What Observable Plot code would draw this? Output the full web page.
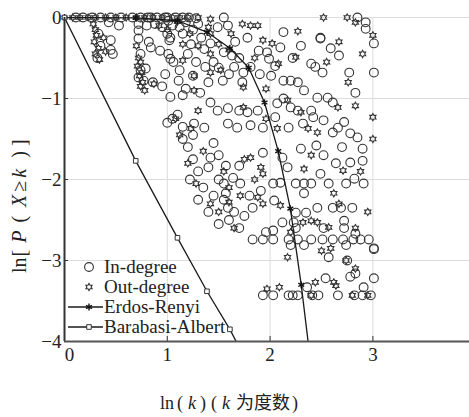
<!DOCTYPE html>
<html><head><meta charset="utf-8">
<script src="https://cdn.jsdelivr.net/npm/d3@7"></script>
<script src="https://cdn.jsdelivr.net/npm/@observablehq/plot@0.6"></script>
<style>body{margin:0;background:#fff} svg{display:block}</style>
</head><body><div id="chart"></div>
<script>
// In-degree points [ln k, ln P(X>=k)]
const inDegree = [
[0.11,0],[0.18,0],[0.27,0],[0.35,0],[0.45,0],[0.55,0],[0.66,0],[0.74,0],[0.81,0],[0.84,0],[0.9,0],[0.98,0],[1.0,0],[1.08,0],[1.15,0],[1.21,0],[1.28,-0.01],[1.55,0],
[0.72,-0.08],[0.8,-0.1],[0.88,-0.08],[0.95,-0.12],[1.05,-0.1],[1.12,-0.12],[1.18,-0.06],[1.25,-0.15],[1.01,-0.04],[1.3,-0.08],
[0.43,-0.06],[0.53,-0.1],[0.45,-0.28],[0.45,-0.4],[0.47,-0.45],[0.33,-0.2],[0.35,-0.35],[0.32,-0.5],
[0.72,-0.16],[0.72,-0.26],[0.74,-0.45],[0.82,-0.3],[0.84,-0.37],[0.93,-0.41],[1.01,-0.45],[1.03,-0.51],[0.74,-0.65],[0.79,-0.63],[0.72,-0.74],[0.77,-0.78],[0.86,-0.8],[1.11,-0.78],[1.0,-0.2],[1.02,-0.28],
[1.03,-0.25],[1.06,-0.55],[1.23,-0.33],[1.36,-0.39],[1.37,-0.61],[1.45,-0.55],[1.59,-0.1],[1.49,-0.12],[1.55,-0.43],[1.63,-0.47],[1.66,-0.3],[1.65,-0.61],[1.54,-0.78],[1.73,-0.8],[1.74,-0.68],[1.81,-0.61],[1.89,-0.41],[1.97,-0.43],[1.99,-0.51],[2.01,-0.72],[2.1,-0.37],[2.13,-0.18],[2.13,-0.78],[2.2,-0.78],[2.27,-0.8],[2.33,-0.9],[2.4,-0.57],[2.44,-0.61],[2.51,-0.68],[2.49,-0.25],[2.49,-0.26],[2.59,-0.38],[2.67,-0.47],[2.77,-0.68],[2.83,-0.93],[2.85,0],[2.93,-0.06],[2.93,-0.14],[3.01,-0.32],[3.01,-0.68],
[2.56,-0.99],[2.61,-1.05],[2.46,-0.99],[2.4,-1.15],[2.27,-1.15],[2.2,-1.11],[2.07,-1.06],[2.13,-1.0],[1.88,-1.15],[1.78,-1.17],[1.7,-1.15],[1.59,-1.12],[1.49,-1.15],[1.42,-1.05],[1.32,-0.93],[1.15,-0.96],[1.03,-0.98],[1.05,-1.25],[1.26,-1.31],[1.36,-1.36],[1.59,-1.31],[1.68,-1.36],[1.81,-1.33],[1.93,-1.36],[2.05,-1.23],[2.18,-1.36],[2.32,-1.31],[2.42,-1.23],[2.52,-1.27],[2.66,-1.36],[2.72,-1.29],[2.78,-1.43],[2.85,-1.48],[2.61,-1.42],
[1.15,-0.2],[1.2,-0.45],[1.28,-0.55],[1.33,-0.25],[1.42,-0.32],[1.5,-0.62],[1.12,-0.65],[1.25,-0.72],[1.4,-0.8],[1.6,-0.7],[1.7,-0.5],[1.78,-0.25],[1.9,-0.7],[2.05,-0.6],[2.22,-0.5],[2.3,-0.35],[0.98,-0.7],[0.95,-0.85],[1.18,-0.88],
[1.15,-1.5],[1.2,-1.6],[1.25,-1.75],[1.3,-1.9],[1.22,-2.0],[1.35,-2.1],[1.3,-2.25],[1.4,-2.4],[1.45,-1.55],[1.5,-1.7],[1.4,-1.85],[1.5,-2.0],[1.55,-2.25],[1.45,-2.2],[1.6,-2.5],[1.5,-2.55],[1.7,-2.6],[1.65,-2.4],[1.75,-2.45],[1.8,-2.2],[1.42,-1.73],[1.93,-1.67],[2.12,-1.73],[2.3,-1.62],[2.45,-1.58],[2.7,-1.6],[2.9,-1.62],[1.1,-1.2],[1.15,-1.35],[1.0,-1.3],[1.25,-1.45],
[1.57,-1.83],[1.7,-1.83],[1.55,-2.05],[1.64,-1.98],[1.71,-2.05],[1.57,-2.17],[1.59,-2.35],[1.83,-2.35],[1.91,-2.14],[2.04,-2.26],[2.03,-2.05],[2.1,-2.04],[2.17,-1.85],[2.25,-2.05],[2.33,-2.05],[2.4,-2.05],[2.49,-1.93],[2.57,-2.05],[2.64,-1.8],[2.74,-2.05],[2.82,-1.99],[2.91,-2.05],[2.78,-1.79],[2.9,-1.77],[2.52,-1.7],[2.33,-2.17],[2.46,-2.35],[2.61,-2.35],[2.69,-2.35],[2.8,-2.35],[2.35,-2.41],[2.25,-2.41],[2.12,-2.53],[2.23,-2.53],[1.96,-2.65],[2.03,-2.63],[2.25,-2.6],[2.52,-2.6],[2.72,-2.51],[2.72,-2.6],[2.83,-2.67],
[1.83,-2.74],[1.93,-2.74],[2.03,-2.74],[2.18,-2.74],[2.27,-2.74],[2.4,-2.74],[2.51,-2.74],[2.61,-2.74],[2.71,-2.74],[2.81,-2.74],[2.88,-2.74],[2.96,-2.74],
[2.2,-2.81],[2.33,-2.81],[2.74,-2.81],[3.01,-2.85],[3.01,-2.86],[2.57,-2.96],[2.75,-3.0],[2.78,-3.2],[2.83,-3.16],[2.54,-3.22],[3.01,-3.22],[2.36,-3.33],[2.91,-3.33],
[1.93,-3.43],[2.03,-3.43],[2.18,-3.43],[2.22,-3.43],[2.27,-3.43],[2.41,-3.43],[2.47,-3.43],[2.66,-3.43],[2.82,-3.43],[2.9,-3.43],[2.98,-3.43]
];
// Out-degree points
const outDegree = [
[0.08,0],[0.15,0],[0.23,0],[0.3,0],[0.4,0],[0.5,0],[0.6,0],[0.7,0],[0.78,0],[0.86,0],[0.95,0],[1.05,0],[1.12,0],[1.2,0],[1.3,0],[1.42,-0.02],[2.52,0],[2.75,0],
[0.28,-0.08],[0.3,-0.15],[0.31,-0.22],[0.29,-0.3],[0.33,-0.38],[0.3,-0.45],[0.34,-0.52],[0.38,-0.25],[0.4,-0.42],
[0.72,-0.5],[0.74,-0.55],[0.71,-0.6],[0.75,-0.68],[0.73,-0.72],[0.76,-0.8],[0.74,-0.85],[0.78,-0.9],[0.7,-0.35],
[2.27,-0.17],[2.67,-0.3],[2.83,-0.06],[3.0,-0.22],[2.76,-0.8],[2.83,-1.09],[3.0,-1.23],[2.25,-0.49],[2.08,-0.57],[2.02,-0.32],[1.93,-0.28],[1.73,-0.08],[1.81,-0.1],[1.88,-0.1],[1.4,-0.12],[1.42,-0.2],[1.62,-0.2],[1.5,-0.33],[1.42,-0.45],[1.42,-0.68],[1.52,-0.65],[1.26,-0.9],[1.26,-0.72],[1.15,-0.33],[1.15,-0.53],[0.87,-0.82],[1.74,-0.86],[1.96,-0.88],[2.17,-1.02],[2.3,-1.17],[1.96,-1.25],[2.07,-1.37],[1.3,-1.15],[1.23,-1.37],[2.37,-1.37],[2.46,-1.42],[2.66,-1.11],[1.74,-1.11],
[0.92,-0.1],[1.0,-0.15],[1.1,-0.05],[1.22,-0.2],[1.3,-0.35],[1.6,-0.4],[1.85,-0.5],[2.55,-0.55],[2.9,-0.45],
[1.12,-1.45],[1.2,-1.8],[1.28,-2.05],[1.35,-1.65],[1.42,-2.3],[1.55,-1.9],[1.6,-2.1],[1.65,-2.6],[1.75,-1.75],[1.85,-2.0],[1.08,-1.25],[1.5,-2.4],
[1.81,-1.73],[1.91,-1.85],[1.93,-1.93],[1.71,-2.2],[1.6,-2.28],[1.88,-2.22],[1.93,-2.3],[2.1,-2.32],[2.32,-2.53],[2.4,-2.51],[2.46,-2.53],[2.57,-2.59],[2.83,-2.6],[2.67,-2.3],[2.62,-2.17],[2.71,-1.89],[2.33,-1.87],[2.4,-1.7],[2.17,-2.96],[2.59,-2.85],[2.74,-3.0],[2.83,-3.1],[1.97,-3.35],[2.09,-3.33],[2.44,-3.27],[2.62,-3.27],[2.64,-3.31],[2.4,-3.43],[2.8,-3.43],[2.95,-3.43],
[2.2,-2.65],[2.5,-2.88],[2.95,-2.4],[3.0,-1.5],[2.88,-1.9]
];
// model curves, sampled at k = 1, 2, 3, ...
const lnK = [0, 0.693, 1.099, 1.386, 1.609, 1.792, 1.946, 2.079, 2.197, 2.303, 2.398];
const erdosRenyi = [0, -0.005, -0.04, -0.18, -0.38, -0.62, -1.05, -1.65, -2.36, -3.3, -4.3];
const barabasiAlbert = [0, -1.77, -2.72, -3.38, -3.85, -4.3];
const xTicks = [0, 1, 2, 3];
const yTicks = [0, -1, -2, -3, -4];
const legendLabels = ["In-degree", "Out-degree", "Erdos-Renyi", "Barabasi-Albert"];

const erData = lnK.map((x, i) => ({x, y: erdosRenyi[i]}));
const baData = barabasiAlbert.map((y, i) => ({x: lnK[i], y}));

const hexagram = {
  draw(context, size) {
    const R = Math.sqrt(size / Math.PI), r = R / Math.sqrt(3);
    for (let i = 0; i < 12; i++) {
      const a = -Math.PI / 2 + i * Math.PI / 6, rr = i % 2 ? r : R;
      const px = rr * Math.cos(a), py = rr * Math.sin(a);
      i ? context.lineTo(px, py) : context.moveTo(px, py);
    }
    context.closePath();
  }
};

const serif = "'Liberation Serif', 'Times New Roman', serif";
const ink = "#333";
const fmt = d => (d < 0 ? "\u2212" : "") + Math.abs(d);

const chart = Plot.plot({
  width: 469, height: 417,
  marginLeft: 64, marginRight: 0, marginTop: 17, marginBottom: 76,
  style: {fontFamily: serif, fontSize: "19px", color: "#222", background: "#fff", overflow: "visible"},
  x: {domain: [0, 3.94]},
  y: {domain: [-4, 0]},
  marks: [
    Plot.gridX(xTicks.slice(1), {stroke: "#dcdcdc", strokeOpacity: 1}),
    Plot.gridY(yTicks.slice(0, 4), {stroke: "#dcdcdc", strokeOpacity: 1}),
    Plot.axisY(yTicks, {tickSize: 0, tickPadding: 3, fontSize: 19, fill: "#222", tickFormat: fmt, label: null}),
    Plot.axisY(yTicks.slice(1, 4), {tickSize: -4, tickFormat: () => "", stroke: ink, label: null}),
    Plot.axisX([0], {tickSize: 0, tickPadding: 6, fontSize: 19, dx: 5, fill: "#222", tickFormat: fmt, label: null}),
    Plot.axisX(xTicks.slice(1), {tickSize: 0, tickPadding: 6, fontSize: 19, fill: "#222", tickFormat: fmt, label: null}),
    Plot.axisX(xTicks.slice(1), {tickSize: -5, tickFormat: () => "", stroke: ink, label: null}),
    Plot.dot(inDegree, {x: d => d[0], y: d => d[1], r: 4.4, stroke: ink, strokeWidth: 1.1, fill: "none"}),
    Plot.dot(outDegree, {x: d => d[0], y: d => d[1], r: 3.6, symbol: hexagram, stroke: ink, strokeWidth: 1.1, fill: "none"}),
    Plot.line(erData, {x: "x", y: "y", stroke: "#1a1a1a", strokeWidth: 1.3, clip: true}),
    Plot.dot(erData.filter(d => d.y >= -4), {x: "x", y: "y", symbol: "asterisk", r: 3.2, stroke: "#111", strokeWidth: 1.4}),
    Plot.line(baData, {x: "x", y: "y", stroke: "#1a1a1a", strokeWidth: 1.3, clip: true}),
    Plot.dot(baData.filter(d => d.y >= -4), {x: "x", y: "y", symbol: "square", r: 2.6, stroke: "#333", strokeWidth: 1, fill: "#fff"}),
    Plot.ruleX([0], {stroke: "#333", strokeWidth: 2}),
    Plot.ruleY([-4], {stroke: "#555", strokeWidth: 2.2})
  ]
});

document.getElementById("chart").appendChild(chart);

// legend and axis titles
const svg = d3.select(chart);
const lg = svg.append("g").attr("font-family", serif).attr("font-size", 19).attr("fill", "#222").attr("text-anchor", "start");
const rows = [267, 287, 307, 327];
const symX = 89, textX = 104;
lg.append("path").attr("d", d3.symbol(d3.symbolCircle, Math.PI * 4.4 * 4.4)()).attr("transform", `translate(${symX},${rows[0]})`).attr("fill", "none").attr("stroke", ink).attr("stroke-width", 1.1);
lg.append("path").attr("d", d3.symbol(hexagram, Math.PI * 3.6 * 3.6)()).attr("transform", `translate(${symX},${rows[1]})`).attr("fill", "none").attr("stroke", ink).attr("stroke-width", 1.1);
lg.append("line").attr("x1", 68).attr("x2", textX - 1).attr("y1", rows[2]).attr("y2", rows[2]).attr("stroke", "#1a1a1a").attr("stroke-width", 1.3);
lg.append("path").attr("d", d3.symbol(d3.symbolAsterisk, Math.PI * 3.2 * 3.2)()).attr("transform", `translate(${symX},${rows[2]})`).attr("fill", "none").attr("stroke", "#111").attr("stroke-width", 1.4);
lg.append("line").attr("x1", 68).attr("x2", textX - 1).attr("y1", rows[3]).attr("y2", rows[3]).attr("stroke", "#1a1a1a").attr("stroke-width", 1.3);
lg.append("path").attr("d", d3.symbol(d3.symbolSquare, Math.PI * 2.6 * 2.6)()).attr("transform", `translate(${symX},${rows[3]})`).attr("fill", "#fff").attr("stroke", "#333").attr("stroke-width", 1);
legendLabels.forEach((t, i) => {
  lg.append("text").attr("x", textX).attr("y", rows[i]).attr("dy", "0.33em").text(t);
});

// y title (rotated), reading bottom to top, starting at y = 273
const yt = svg.append("text")
  .attr("transform", "translate(19,273) rotate(-90)")
  .attr("text-anchor", "start").attr("dy", "0.35em")
  .attr("font-family", serif).attr("font-size", 20).attr("fill", "#222");
[["ln", 0, null], ["[", 1, null], ["P", 7, "italic"], ["(", 8, null], ["X", 9, "italic"], ["\u2265", 3, null], ["k", 3, "italic"], [")", 11, null], ["]", 5, null]]
  .forEach(([t, dx, st]) => { const s = yt.append("tspan").attr("dx", dx).text(t); if (st) s.attr("font-style", st); });

// x title
const xt = svg.append("text")
  .attr("x", 160).attr("y", 409)
  .attr("text-anchor", "start")
  .attr("font-family", serif + ", 'Noto Sans CJK SC'").attr("font-size", 18).attr("fill", "#222");
[["ln", 0, null, null], ["(", 3, null, null], ["k", 5, "italic", null], [")", 4, null, null], ["(", 5, null, null], ["k", 5, "italic", null], ["\u4e3a\u5ea6\u6570", 6, null, "'Noto Sans CJK SC'"], [")", 2, null, null]]
  .forEach(([t, dx, st, ff]) => { const s = xt.append("tspan").attr("dx", dx).text(t); if (st) s.attr("font-style", st); if (ff) s.attr("font-family", ff); });
</script>
</body></html>
